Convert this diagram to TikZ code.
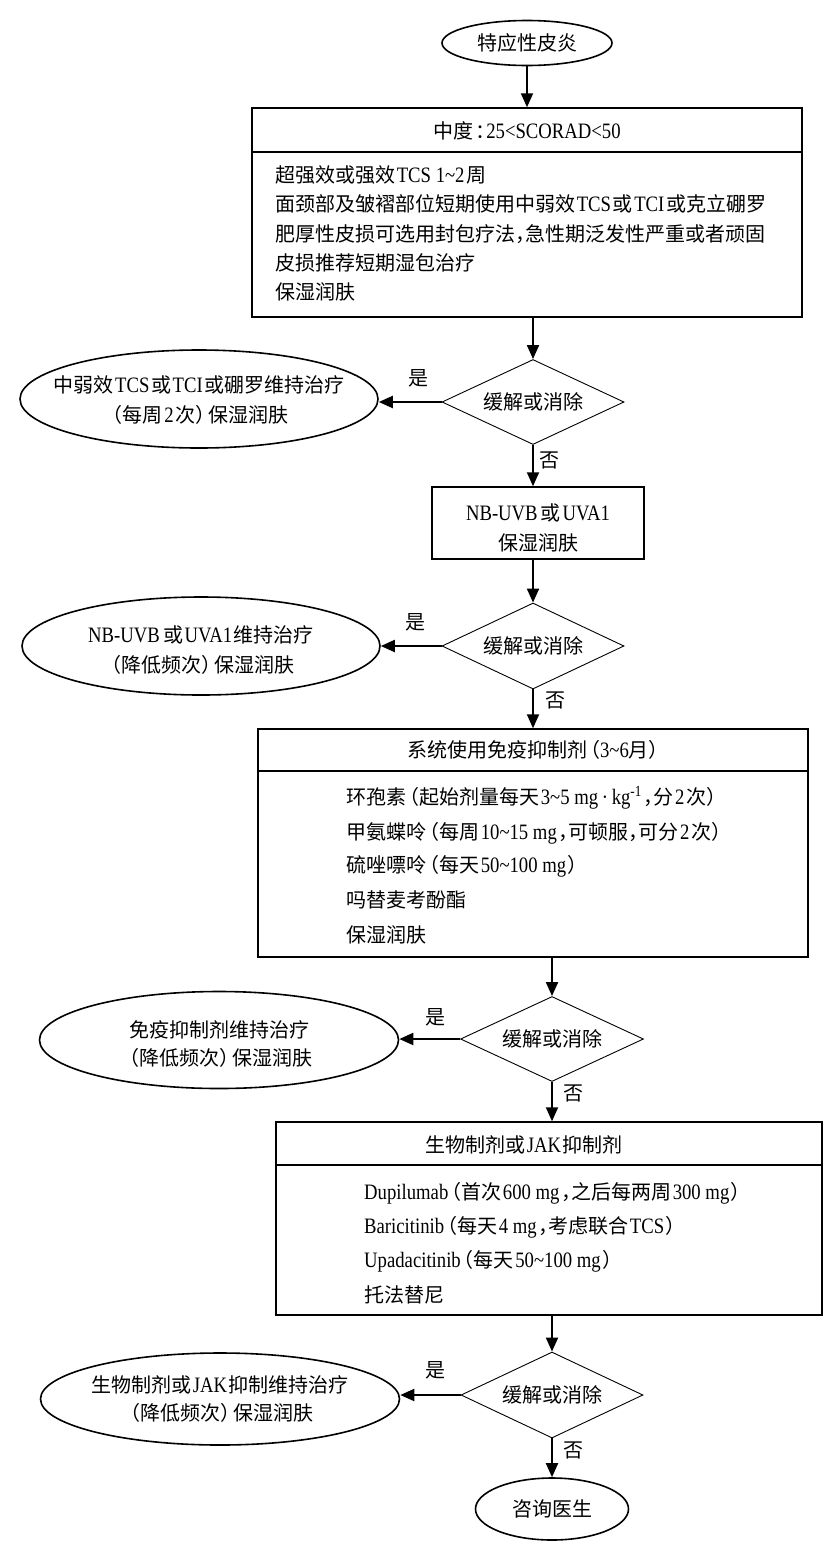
\documentclass[tikz,border=0pt]{standalone}
\usepackage{fontspec}
\newfontfamily\cjkfont{Noto Sans CJK SC}
\newfontfamily\cjkhalt[RawFeature=+halt]{Noto Sans CJK SC}
\newfontfamily\latfont[FakeStretch=0.85,Scale=1.1]{Liberation Serif}
\usetikzlibrary{shapes.geometric,arrows.meta}
\newcommand\LT[1]{\hspace{0.08em}{\latfont #1}\hspace{0.08em}}
\newcommand\tld{\textasciitilde}
\newcommand\cm{{\cjkhalt ，}}
\newcommand\lp{\hspace{0.15em}{\cjkhalt （}}
\newcommand\rp{{\cjkhalt ）}\hspace{0.15em}}
\newcommand\justline[2]{{\XeTeXlinebreaklocale "zh"\XeTeXlinebreakskip=0pt plus 1pt\relax\makebox[#1][s]{#2}}}
\begin{document}
\begin{tikzpicture}[x=1pt,y=-1pt,
  every node/.style={font=\cjkfont\fontsize{20}{24}\selectfont, inner sep=0pt},
  boxs/.style={draw, rectangle, line width=1.5pt},
  dia/.style={draw, diamond, line width=0.9pt, minimum width=182pt, minimum height=85pt},
  ell/.style={draw, ellipse, line width=1.6pt},
  arr/.style={line width=2pt, -{Triangle[length=14pt,width=12pt]}},
  divider/.style={line width=1.5pt},
  ln/.style={anchor=west}]
\useasboundingbox (0,0) rectangle (827,1553);

% start
\node[ell, minimum width=170pt, minimum height=45pt] (e1) at (527,43) {};
\node (e1t) at (e1) {特应性皮炎};

% box 1
\node[boxs, minimum width=550pt, minimum height=209pt] (b1) at (527,212.5) {};
\draw[divider] (b1.west |- 0,152) -- (b1.east |- 0,152);
\node (b1h) at (527,131) {中度\hspace{0.1em}{\cjkhalt ：}\hspace{0.05em}{\latfont 25<SCORAD<50}};
\node[ln] (b1a) at (275,175) {超强效或强效\LT{TCS 1\tld2}周};
\node[ln] (b1b) at (275,204) {\justline{506pt}{面颈部及皱褶部位短期使用中弱效\LT{TCS}或\LT{TCI}或克立硼罗}};
\node[ln] (b1c) at (275,234) {\justline{506pt}{肥厚性皮损可选用封包疗法\cm 急性期泛发性严重或者顽固}};
\node[ln] (b1d) at (275,263) {皮损推荐短期湿包治疗};
\node[ln] (b1e) at (275,292) {保湿润肤};
\draw[arr] (e1.south) -- (e1.south |- b1.north);

% decision 1
\node[dia] (d1) at (533,402) {};
\node (d1t) at (d1) {缓解或消除};
\draw[arr] (d1.north |- b1.south) -- (d1.north);
\node[ell, minimum width=358pt, minimum height=98pt] (e2) at (199,399) {};
\node (e2a) at (199,385) {中弱效\LT{TCS}或\LT{TCI}或硼罗维持治疗};
\node (e2b) at (199,415) {\lp 每周\LT{2}次\rp 保湿润肤};
\draw[arr] (d1.west) -- (d1.west -| e2.east);
\node (y1) at (418,378) {是};
\node (n1) at (549,460) {否};

% NB-UVB box
\node[boxs, minimum width=212pt, minimum height=72pt] (nb) at (538,523) {};
\node (nba) at (538,513) {{\latfont NB-UVB}\LT{}或\LT{UVA1}};
\node (nbb) at (538,543) {保湿润肤};
\draw[arr] (d1.south) -- (d1.south |- nb.north);

% decision 2
\node[dia, minimum height=86pt] (d2) at (533,646) {};
\node (d2t) at (d2) {缓解或消除};
\draw[arr] (d2.north |- nb.south) -- (d2.north);
\node[ell, minimum width=358pt, minimum height=98pt] (e3) at (201,646) {};
\node (e3a) at (201,635) {{\latfont NB-UVB}\LT{}或\LT{UVA1}维持治疗};
\node (e3b) at (201,665) {\lp 降低频次\rp 保湿润肤};
\draw[arr] (d2.west) -- (d2.west -| e3.east);
\node (y2) at (415,622) {是};
\node (n2) at (555,700) {否};

% box 3
\node[boxs, minimum width=550pt, minimum height=228pt] (b3) at (533,843) {};
\draw[divider] (b3.west |- 0,771) -- (b3.east |- 0,771);
\node (b3h) at (533,750) {系统使用免疫抑制剂\lp{\latfont 3\tld6}月\rp};
\node[ln] (b3a) at (346,798) {环孢素\lp 起始剂量每天\LT{3\tld5 mg\,·\,kg\textsuperscript{-1}}\cm 分\LT{2}次\rp};
\node[ln] (b3b) at (346,833) {甲氨蝶呤\lp 每周\LT{10\tld15 mg}\cm 可顿服\cm 可分\LT{2}次\rp};
\node[ln] (b3c) at (346,866) {硫唑嘌呤\lp 每天\LT{50\tld100 mg}\rp};
\node[ln] (b3d) at (346,900) {吗替麦考酚酯};
\node[ln] (b3e) at (346,935) {保湿润肤};
\draw[arr] (d2.south) -- (d2.south |- b3.north);

% decision 3
\node[dia, minimum width=183pt] (d3) at (552,1039) {};
\node (d3t) at (d3) {缓解或消除};
\draw[arr] (d3.north |- b3.south) -- (d3.north);
\node[ell, minimum width=359pt, minimum height=97pt] (e4) at (219,1040) {};
\node (e4a) at (219,1030) {免疫抑制剂维持治疗};
\node (e4b) at (219,1058) {\lp 降低频次\rp 保湿润肤};
\draw[arr] (d3.west) -- (d3.west -| e4.east);
\node (y3) at (435,1017) {是};
\node (n3) at (573,1093) {否};

% box 4
\node[boxs, minimum width=546pt, minimum height=193pt] (b4) at (549,1218.5) {};
\draw[divider] (b4.west |- 0,1165) -- (b4.east |- 0,1165);
\node (b4h) at (524,1145) {生物制剂或\LT{JAK}抑制剂};
\node[ln] (b4a) at (364,1193) {{\latfont Dupilumab}\lp 首次\LT{600 mg}\cm 之后每两周\LT{300 mg}\rp};
\node[ln] (b4b) at (364,1227) {{\latfont Baricitinib}\lp 每天\LT{4 mg}\cm 考虑联合\LT{TCS}\rp};
\node[ln] (b4c) at (364,1261) {{\latfont Upadacitinib}\lp 每天\LT{50\tld100 mg}\rp};
\node[ln] (b4d) at (364,1295) {托法替尼};
\draw[arr] (d3.south) -- (d3.south |- b4.north);

% decision 4
\node[dia, minimum height=86pt] (d4) at (552,1395) {};
\node (d4t) at (d4) {缓解或消除};
\draw[arr] (d4.north |- b4.south) -- (d4.north);
\node[ell, minimum width=359pt, minimum height=92pt] (e5) at (220,1399) {};
\node (e5a) at (220,1385) {生物制剂或\LT{JAK}抑制维持治疗};
\node (e5b) at (220,1413) {\lp 降低频次\rp 保湿润肤};
\draw[arr] (d4.west) -- (d4.west -| e5.east);
\node (y4) at (435,1370) {是};
\node (n4) at (573,1450) {否};

% end
\node[ell, minimum width=153pt, minimum height=62pt] (e6) at (552,1509) {};
\node (e6t) at (e6) {咨询医生};
\draw[arr] (d4.south) -- (d4.south |- e6.north);
\end{tikzpicture}
\end{document}
